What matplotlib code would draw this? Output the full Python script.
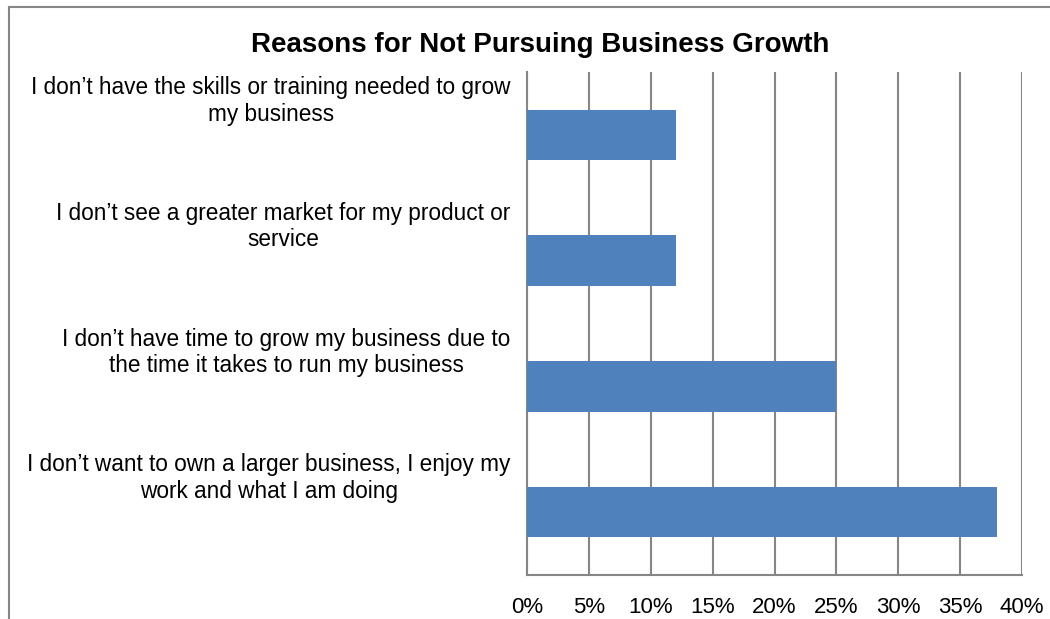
import matplotlib
matplotlib.use("Agg")
import matplotlib.pyplot as plt
from matplotlib.lines import Line2D
import numpy as np

plt.rcParams['font.family'] = ['Liberation Sans', 'DejaVu Sans']

categories = [
    "I don\u2019t have the skills or training needed to grow\nmy business",
    "I don\u2019t see a greater market for my product or\nservice",
    "I don\u2019t have time to grow my business due to\nthe time it takes to run my business",
    "I don\u2019t want to own a larger business, I enjoy my\nwork and what I am doing",
]
values = [0.12, 0.12, 0.25, 0.38]
xticks = [0, 0.05, 0.10, 0.15, 0.20, 0.25, 0.30, 0.35, 0.40]
xtick_labels = ["0%", "5%", "10%", "15%", "20%", "25%", "30%", "35%", "40%"]
title = "Reasons for Not Pursuing Business Growth"

W, H = 1050, 619
fig = plt.figure(figsize=(W / 100, H / 100), dpi=100)
L, R, T, B = 527, 1022, 72, 575
ax = fig.add_axes([L / W, 1 - B / H, (R - L) / W, (B - T) / H])

n = len(categories)
ypos = np.arange(n)
ax.barh(ypos, values, height=0.4, color="#4F81BD", zorder=3)
ax.set_ylim(n - 0.5, -0.5)
ax.set_xlim(0, 0.40)
ax.set_xticks(xticks)
ax.set_xticklabels(xtick_labels, fontsize=16)
ax.tick_params(axis='x', length=0, pad=16)
ax.set_yticks([])
ax.grid(axis='x', color="#868686", linewidth=1.5, zorder=0)
for s in ['top', 'right']:
    ax.spines[s].set_visible(False)
for s in ['left', 'bottom']:
    ax.spines[s].set_color("#868686")
    ax.spines[s].set_linewidth(1.5)

for i, lab in enumerate(categories):
    ax.annotate(lab, xy=(0, i - 0.27), xycoords=('axes fraction', 'data'),
                xytext=(-12, 0), textcoords='offset points',
                ha='right', va='center', multialignment='center',
                fontsize=16.3, linespacing=1.2)

fig.text(540 / W, 1 - 45 / H, title, ha='center', va='center',
         fontsize=20, fontweight='bold')

fig.add_artist(Line2D([9 / W, 1], [1 - 7 / H, 1 - 7 / H], color="#868686", linewidth=1.5))
fig.add_artist(Line2D([9 / W, 9 / W], [0, 1 - 7 / H], color="#868686", linewidth=1.5))

fig.savefig("out.png", dpi=100)
